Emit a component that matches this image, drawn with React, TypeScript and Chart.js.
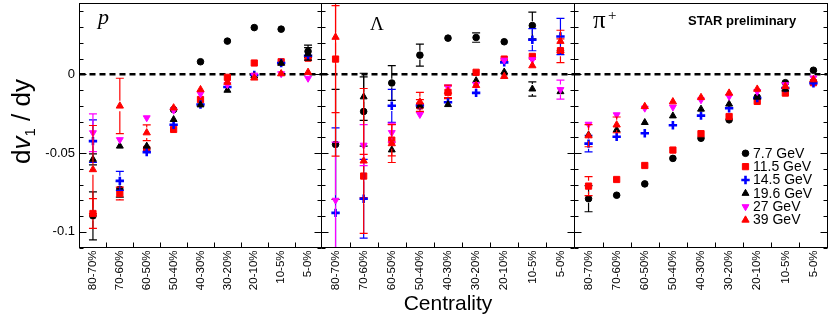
import React, { useEffect, useRef } from "react";
import { Chart, registerables } from "chart.js";
import { drawPoint } from "chart.js/helpers";

Chart.register(...registerables);

const CATEGORIES = ["80-70%", "70-60%", "60-50%", "50-40%", "40-30%", "30-20%", "20-10%", "10-5%", "5-0%"];
const ENERGIES = ["7.7 GeV", "11.5 GeV", "14.5 GeV", "19.6 GeV", "27 GeV", "39 GeV"];
const Y_MIN = -0.11;
const Y_MAX = 0.045;
const Y_TICKS = [-0.1, -0.05, 0];
const Y_TICK_LABELS = ["-0.1", "-0.05", "0"];

// proton
const P_77 = [-0.0899, -0.073, -0.0473, -0.0224, 0.008, 0.0211, 0.0297, 0.0287, 0.0146];
const P_77_ERR = [0.0152, 0.005, 0.002, 0.0017, 0.001, 0.001, 0.001, 0.0022, 0.004];
const P_115 = [-0.0884, -0.0757, -0.0477, -0.035, -0.016, -0.0019, 0.0072, 0.008, 0.0103];
const P_115_ERR = [0.0095, 0.004, 0.002, 0.0015, 0.0012, 0.0012, 0.001, 0.0015, 0.003];
const P_145 = [-0.0424, -0.0677, -0.0494, -0.032, -0.0192, -0.008, -0.0004, 0.0072, 0.0118];
const P_145_ERR = [0.0135, 0.006, 0.002, 0.0015, 0.001, 0.001, 0.001, 0.0015, 0.003];
const P_196 = [-0.054, -0.0456, -0.0456, -0.0287, -0.0194, -0.0101, -0.001, 0.007, 0.013];
const P_196_ERR = [0.0035, 0.0025, 0.002, 0.0012, 0.001, 0.001, 0.001, 0.0015, 0.004];
const P_27 = [-0.0371, -0.0415, -0.0276, -0.0228, -0.0124, -0.0065, -0.0005, 0.0004, -0.0025];
const P_27_ERR = [0.012, 0.002, 0.0015, 0.0015, 0.001, 0.001, 0.001, 0.001, 0.002];
const P_39 = [-0.0605, -0.0201, -0.0371, -0.0213, -0.0097, -0.005, -0.0023, 0.0004, 0.0013];
const P_39_ERR = [0.028, 0.0176, 0.005, 0.003, 0.0015, 0.0015, 0.001, 0.001, 0.0025];

// Lambda
const L_77 = [-0.0445, -0.0236, -0.0055, 0.0122, 0.023, 0.0234, 0.0207, 0.031, 0.015];
const L_77_ERR = [0.035, 0.022, 0.011, 0.007, 0.0027, 0.003, 0.0025, 0.0085, 0];
const L_115 = [0.0097, -0.0646, -0.0418, -0.02, -0.0114, 0.0013, 0.0097, 0.0114, 0.015];
const L_115_ERR = [0.034, 0.0137, 0.01, 0.004, 0.004, 0.0015, 0.003, 0.003, 0.0075];
const L_145 = [-0.088, -0.079, -0.02, -0.0198, -0.0177, -0.0118, 0.0076, 0.022, 0.024];
const L_145_ERR = [0.054, 0.025, 0.0105, 0.003, 0.003, 0.003, 0.003, 0.007, 0.0115];
const L_196 = [null, -0.0143, -0.048, -0.02, -0.0192, -0.004, 0.0015, -0.0093, -0.011];
const L_196_ERR = [0, 0.015, 0.003, 0.003, 0.003, 0.002, 0.002, 0.0045, 0.003];
const L_27 = [-0.08, -0.045, -0.037, -0.0255, -0.008, -0.0065, 0.009, 0.0093, -0.0097];
const L_27_ERR = [0.037, 0.013, 0.006, 0.003, 0.003, 0.002, 0.002, 0.003, 0.006];
const L_39 = [0.0236, -0.055, -0.044, -0.0175, -0.0108, -0.007, -0.0013, 0.0055, 0.021];
const L_39_ERR = [0.0755, 0.046, 0.012, 0.006, 0.004, 0.002, 0.002, 0.003, 0.007];

// pi+
const PI_77 = [-0.079, -0.0768, -0.0696, -0.0534, -0.0406, -0.0289, -0.0145, -0.0053, 0.0026];
const PI_77_ERR = [0.0083, 0.002, 0.001, 0.001, 0.001, 0.001, 0.001, 0.001, 0.0022];
const PI_115 = [-0.071, -0.0668, -0.0579, -0.0481, -0.0377, -0.0268, -0.0172, -0.0119, -0.0053];
const PI_115_ERR = [0.006, 0.0015, 0.001, 0.001, 0.001, 0.001, 0.001, 0.001, 0.001];
const PI_145 = [-0.044, -0.0396, -0.0374, -0.0323, -0.0262, -0.0215, -0.015, -0.0087, -0.0057];
const PI_145_ERR = [0.0053, 0.0022, 0.001, 0.001, 0.001, 0.001, 0.001, 0.001, 0.001];
const PI_196 = [-0.0385, -0.0353, -0.0306, -0.0264, -0.0221, -0.0189, -0.0145, -0.0094, -0.0034];
const PI_196_ERR = [0.003, 0.002, 0.001, 0.001, 0.001, 0.001, 0.001, 0.001, 0.001];
const PI_27 = [-0.0317, -0.0257, -0.0215, -0.0208, -0.0162, -0.014, -0.0109, -0.0066, -0.0023];
const PI_27_ERR = [0.003, 0.003, 0.001, 0.001, 0.001, 0.001, 0.001, 0.001, 0.001];
const PI_39 = [-0.039, -0.0321, -0.0204, -0.0174, -0.0147, -0.0119, -0.0094, -0.0077, -0.0034];
const PI_39_ERR = [0.007, 0.005, 0.001, 0.001, 0.001, 0.001, 0.001, 0.001, 0.001];

const SANS = '"Liberation Sans", Arial, Helvetica, sans-serif';
const SERIF = '"Liberation Serif", "Times New Roman", serif';
const H = 315;

const STYLES = [
  { color: "#000000", style: "circle", r: 3.3, rot: 0, bw: 1 },
  { color: "#ff0000", style: "rect", r: 4.4, rot: 0, bw: 1 },
  { color: "#0000ff", style: "cross", r: 4.2, rot: 0, bw: 2.6 },
  { color: "#000000", style: "triangle", r: 4.0, rot: 0, bw: 1 },
  { color: "#ff00ff", style: "triangle", r: 4.0, rot: 180, bw: 1 },
  { color: "#ff0000", style: "triangle", r: 4.2, rot: 0, bw: 1 },
];

type PanelProps = {
  left: number;
  width: number;
  padLeft: number;
  padRight: number;
  yAxis: boolean;
  xTitle: boolean;
  values: (number | null)[][];
  errors: number[][];
  kind: "p" | "L" | "pi";
};

function decorPlugin(props: PanelProps) {
  const off = props.left;
  return {
    id: "decor",
    beforeDatasetsDraw(chart: any) {
      const { ctx, chartArea: a } = chart;
      const y = chart.scales.y;
      const y0 = y.getPixelForValue(0);
      ctx.save();
      ctx.strokeStyle = "#000";
      ctx.lineWidth = 2.5;
      ctx.setLineDash([6, 4]);
      ctx.beginPath();
      ctx.moveTo(a.left, y0);
      ctx.lineTo(a.right, y0);
      ctx.stroke();
      ctx.restore();
    },
    beforeDatasetDraw(chart: any, args: any) {
      const ds = chart.data.datasets[args.index];
      const errs = ds.errorBars as number[];
      if (!errs) return;
      const { ctx, chartArea: a } = chart;
      const y = chart.scales.y;
      const r = ds.pointRadius + 1;
      ctx.save();
      ctx.beginPath();
      ctx.rect(a.left, a.top, a.right - a.left, a.bottom - a.top);
      ctx.clip();
      ctx.strokeStyle = ds.borderColor;
      ctx.lineWidth = 1.2;
      args.meta.data.forEach((el: any, j: number) => {
        const v = ds.data[j];
        const e = errs[j];
        if (v == null || !e) return;
        const yt = y.getPixelForValue(v + e);
        const yb = y.getPixelForValue(v - e);
        if ((yb - yt) / 2 <= r) return;
        const x = el.x;
        const yc = el.y;
        ctx.beginPath();
        ctx.moveTo(x, yt);
        ctx.lineTo(x, yc - r);
        ctx.moveTo(x, yc + r);
        ctx.lineTo(x, yb);
        ctx.moveTo(x - 4, yt);
        ctx.lineTo(x + 4, yt);
        ctx.moveTo(x - 4, yb);
        ctx.lineTo(x + 4, yb);
        ctx.stroke();
      });
      ctx.restore();
    },
    afterDatasetsDraw(chart: any) {
      const { ctx, chartArea: a } = chart;
      const y = chart.scales.y;
      const x = chart.scales.x;
      ctx.save();
      ctx.strokeStyle = "#000";
      ctx.lineWidth = 1;
      ctx.setLineDash([]);
      ctx.strokeRect(a.left, a.top, a.right - a.left, a.bottom - a.top);
      ctx.beginPath();
      for (let k = -11; k <= 4; k++) {
        const py = Math.round(y.getPixelForValue(k / 100)) + 0.5;
        const len = k % 5 === 0 ? 7 : 4;
        ctx.moveTo(a.left, py);
        ctx.lineTo(a.left + len, py);
        ctx.moveTo(a.right, py);
        ctx.lineTo(a.right - len, py);
      }
      for (let i = 1; i < CATEGORIES.length; i++) {
        const px = Math.round((x.getPixelForValue(i - 1) + x.getPixelForValue(i)) / 2) + 0.5;
        ctx.moveTo(px, a.bottom);
        ctx.lineTo(px, a.bottom - 5);
      }
      ctx.stroke();

      ctx.fillStyle = "#000";
      ctx.textBaseline = "alphabetic";
      ctx.textAlign = "left";
      if (props.kind === "p") {
        ctx.font = `italic 22px ${SERIF}`;
        ctx.fillText("p", 98 - off, 24);
        // y axis title: dv1 / dy
        ctx.save();
        ctx.translate(30, 121.5);
        ctx.rotate(-Math.PI / 2);
        const fMain = `26px ${SANS}`;
        const fIt = `italic 26px ${SANS}`;
        const fSub = `15px ${SANS}`;
        ctx.font = fMain;
        const wd = ctx.measureText("d").width;
        const wrest = ctx.measureText(" / dy").width;
        ctx.font = fIt;
        const wv = ctx.measureText("v").width;
        ctx.font = fSub;
        const w1 = ctx.measureText("1").width;
        const total = wd + wv + w1 + wrest;
        let cx = -total / 2;
        ctx.font = fMain;
        ctx.fillText("d", cx, 0);
        cx += wd;
        ctx.font = fIt;
        ctx.fillText("v", cx, 0);
        cx += wv;
        ctx.font = fSub;
        ctx.fillText("1", cx, 5);
        cx += w1;
        ctx.font = fMain;
        ctx.fillText(" / dy", cx, 0);
        ctx.restore();
      } else if (props.kind === "L") {
        ctx.font = `19px ${SERIF}`;
        ctx.fillText("\u039B", 370 - off, 30);
      } else {
        ctx.font = `25px ${SERIF}`;
        ctx.fillText("\u03C0", 593 - off, 28);
        ctx.font = `15px ${SERIF}`;
        ctx.fillText("+", 608 - off, 20);
        ctx.font = `bold 13px ${SANS}`;
        ctx.fillText("STAR preliminary", 688 - off, 25);
        // legend
        ctx.font = `14px ${SANS}`;
        ctx.textBaseline = "middle";
        ENERGIES.forEach((lab, i) => {
          const s = STYLES[i];
          const ly = 153.3 + i * 13.35;
          ctx.fillStyle = s.color;
          ctx.strokeStyle = s.color;
          ctx.lineWidth = s.bw;
          drawPoint(ctx, { pointStyle: s.style, radius: s.r, rotation: s.rot, borderWidth: s.bw } as any, 745.5 - off, ly);
          ctx.fillStyle = "#000";
          ctx.fillText(lab, 753 - off, ly + 0.5);
        });
      }
      ctx.restore();
    },
  };
}

function Panel(props: PanelProps) {
  const ref = useRef<HTMLCanvasElement>(null);
  useEffect(() => {
    const canvas = ref.current!;
    const chart = new Chart(canvas, {
      type: "line",
      data: {
        labels: CATEGORIES,
        datasets: props.values.map((v, i) => ({
          label: ENERGIES[i],
          data: v,
          errorBars: props.errors[i],
          showLine: false,
          pointStyle: STYLES[i].style,
          pointRadius: STYLES[i].r,
          pointRotation: STYLES[i].rot,
          pointBorderWidth: STYLES[i].bw,
          pointBackgroundColor: STYLES[i].color,
          pointBorderColor: STYLES[i].color,
          borderColor: STYLES[i].color,
          backgroundColor: STYLES[i].color,
          order: 6 - i,
        })) as any,
      },
      options: {
        responsive: false,
        animation: false,
        devicePixelRatio: 1,
        events: [],
        layout: { autoPadding: false, padding: { top: 3.5, left: props.padLeft, right: props.padRight, bottom: 0 } },
        plugins: { legend: { display: false }, tooltip: { enabled: false } },
        scales: {
          x: {
            type: "category",
            offset: true,
            grid: { display: false, drawTicks: false },
            border: { display: false },
            ticks: {
              autoSkip: false,
              minRotation: 90,
              maxRotation: 90,
              padding: 3,
              color: "#000",
              font: { family: SANS, size: 11.5 },
            },
            title: {
              display: props.xTitle,
              text: "Centrality",
              color: "#000",
              font: { family: SANS, size: 21, lineHeight: 1 },
              padding: 0,
            },
            afterFit: (s: any) => {
              s.height = 67.5;
              s.paddingLeft = 0;
              s.paddingRight = 0;
            },
          },
          y: {
            type: "linear",
            min: Y_MIN,
            max: Y_MAX,
            display: props.yAxis,
            grid: { display: false, drawTicks: false },
            border: { display: false },
            afterBuildTicks: (s: any) => {
              s.ticks = Y_TICKS.map((v) => ({ value: v }));
            },
            ticks: {
              padding: 4.5,
              color: "#000",
              font: { family: SANS, size: 13 },
              callback: (_v: any, idx: number) => Y_TICK_LABELS[idx],
            },
            afterFit: (s: any) => {
              s.width = props.yAxis ? 79.5 : 0;
              s.paddingTop = 0;
              s.paddingBottom = 0;
            },
          },
        },
      } as any,
      plugins: [decorPlugin(props)],
    });
    return () => chart.destroy();
  }, []);
  return (
    <canvas
      ref={ref}
      width={props.width}
      height={H}
      style={{ position: "absolute", left: props.left, top: 0, width: props.width, height: H }}
    />
  );
}

export default function App() {
  return (
    <div style={{ position: "absolute", left: 0, top: 0, width: 830, height: H, background: "#fff", overflow: "hidden" }}>
      <Panel
        left={0}
        width={322}
        padLeft={0}
        padRight={0.5}
        yAxis={true}
        xTitle={false}
        kind="p"
        values={[P_77, P_115, P_145, P_196, P_27, P_39]}
        errors={[P_77_ERR, P_115_ERR, P_145_ERR, P_196_ERR, P_27_ERR, P_39_ERR]}
      />
      <Panel
        left={321}
        width={254}
        padLeft={0.5}
        padRight={0.5}
        yAxis={false}
        xTitle={true}
        kind="L"
        values={[L_77, L_115, L_145, L_196, L_27, L_39]}
        errors={[L_77_ERR, L_115_ERR, L_145_ERR, L_196_ERR, L_27_ERR, L_39_ERR]}
      />
      <Panel
        left={574}
        width={256}
        padLeft={0.5}
        padRight={2.5}
        yAxis={false}
        xTitle={false}
        kind="pi"
        values={[PI_77, PI_115, PI_145, PI_196, PI_27, PI_39]}
        errors={[PI_77_ERR, PI_115_ERR, PI_145_ERR, PI_196_ERR, PI_27_ERR, PI_39_ERR]}
      />
    </div>
  );
}
